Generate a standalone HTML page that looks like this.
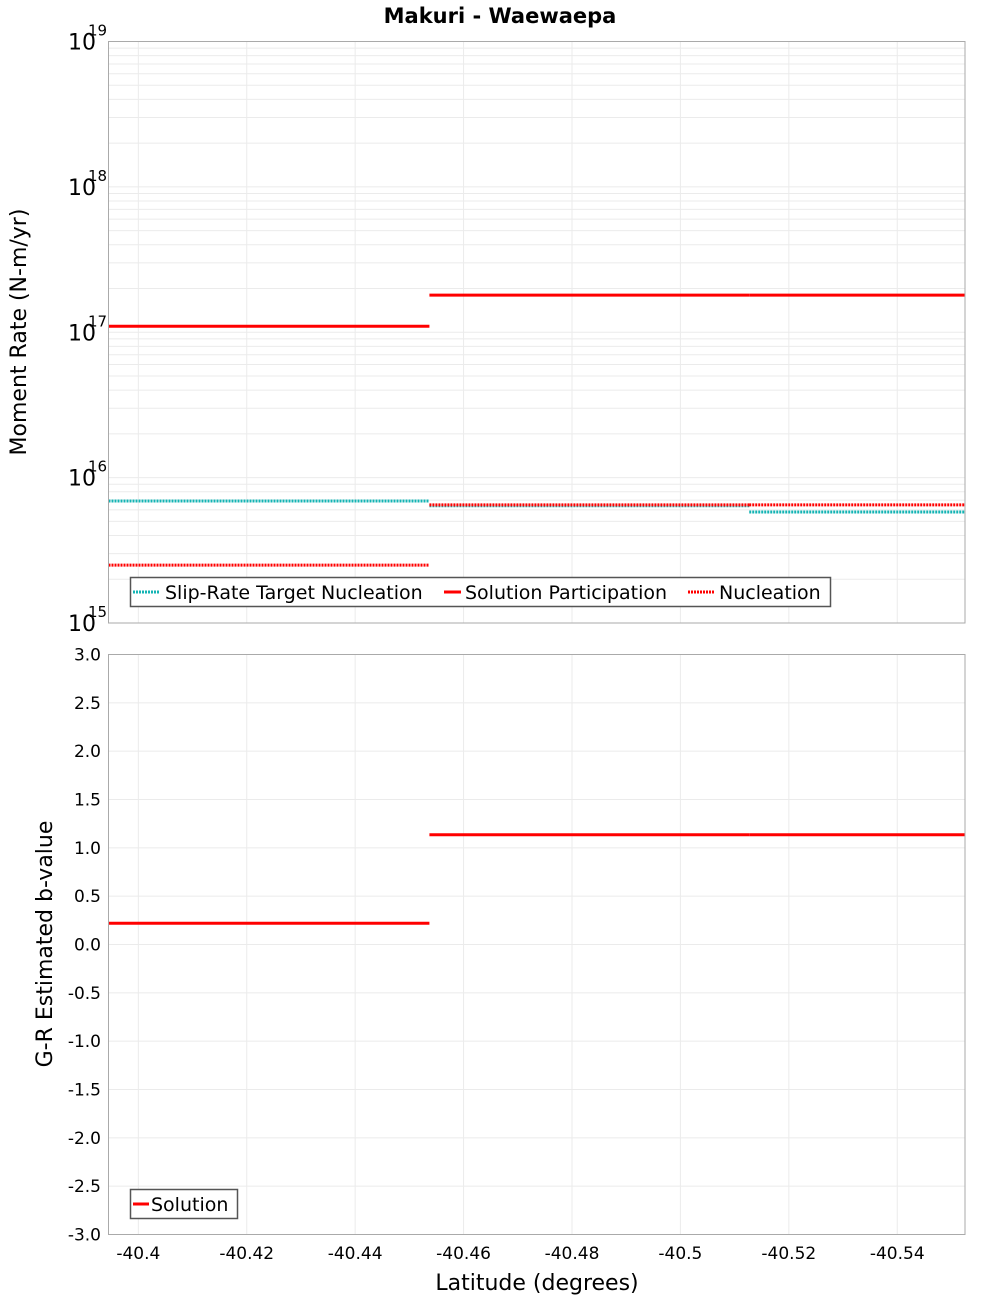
<!DOCTYPE html>
<html><head><meta charset="utf-8"><style>
body{margin:0;background:#fff}
svg{display:block;font-family:"DejaVu Sans","Liberation Sans",sans-serif}
</style></head><body>
<svg id="chart" width="1000" height="1300">
<text x="500" y="23" text-anchor="middle" font-size="21" font-weight="bold">Makuri - Waewaepa</text>
<g id="topPlot"></g><g id="botPlot"></g>
</svg>
<script>
const bounds = [-40.3945, -40.4537, -40.5127, -40.5525];
const slipTarget = [6.9e15, 6.4e15, 5.8e15];
const participation = [1.1e17, 1.8e17, 1.8e17];
const nucleation = [2.5e15, 6.5e15, 6.5e15];
const bValues = [0.22, 1.135, 1.135];
const xTicks = [-40.4, -40.42, -40.44, -40.46, -40.48, -40.5, -40.52, -40.54];
const xTickLabels = ["-40.4","-40.42","-40.44","-40.46","-40.48","-40.5","-40.52","-40.54"];
const logDecades = [15,16,17,18,19];
const bTicks = [3,2.5,2,1.5,1,0.5,0,-0.5,-1,-1.5,-2,-2.5,-3];

const NS="http://www.w3.org/2000/svg";
const L=108.5,R=965;
const xMin=-40.3945,xMax=-40.5525;
const X=v=>L+(v-xMin)/(xMax-xMin)*(R-L);
const T1=41.5,B1=623, T2=654.5,B2=1234.5;
const Y1=v=>B1-(Math.log10(v)-15)/4*(B1-T1);
const Y2=v=>B2-(v+3)/6*(B2-T2);
function mk(p,tag,a,txt){const e=document.createElementNS(NS,tag);for(const k in a)e.setAttribute(k,a[k]);if(txt!==undefined)e.textContent=txt;p.appendChild(e);return e;}
const topG=document.getElementById('topPlot'),botG=document.getElementById('botPlot');

const g1=mk(topG,'g',{});


for(let d=15;d<19;d++)for(let m=1;m<10;m++){const y=Y1(m*Math.pow(10,d));mk(g1,'line',{x1:L,x2:R,y1:y,y2:y,stroke:'#ebebeb','stroke-width':1});}
xTicks.forEach(t=>{mk(g1,'line',{x1:X(t),x2:X(t),y1:T1,y2:B1,stroke:'#ebebeb'});});
const g2=mk(botG,'g',{});


bTicks.forEach(t=>mk(g2,'line',{x1:L,x2:R,y1:Y2(t),y2:Y2(t),stroke:'#ebebeb'}));
xTicks.forEach(t=>mk(g2,'line',{x1:X(t),x2:X(t),y1:T2,y2:B2,stroke:'#ebebeb'}));

logDecades.forEach(d=>{const y=Y1(Math.pow(10,d));
 const t=mk(topG,'text',{x:96,y:y+8,'text-anchor':'end','font-size':22});
 
 
 t.textContent='10';
 const s=mk(topG,'text',{x:88,y:y-6,'font-size':15},String(d));
 
 
});
bTicks.forEach(v=>{const t=mk(botG,'text',{x:101,y:Y2(v)+6,'text-anchor':'end','font-size':17},v.toFixed(1));
 
 });
xTicks.forEach((v,i)=>{const t=mk(botG,'text',{x:X(v),y:1259,'text-anchor':'middle','font-size':17},xTickLabels[i]);
 
 });

function seg(p,arr,Y,color,dash,name,w){arr.forEach((v,i)=>{const l=mk(p,'line',{x1:X(bounds[i]),x2:X(bounds[i+1]),y1:Y(v),y2:Y(v),stroke:color,'stroke-width':w||3});
 if(dash)l.setAttribute('stroke-dasharray',dash);
 
 });}
seg(topG,participation,Y1,'#ff0000',null,'solution-participation');
seg(topG,slipTarget,Y1,'#14b4b4','2 1','slip-rate-target-nucleation');
seg(topG,nucleation,Y1,'#ff0000','2 1','nucleation');
seg(botG,bValues,Y2,'#ff0000',null,'b-value-solution');

const f1=mk(topG,'rect',{x:L,y:T1,width:R-L,height:B1-T1,fill:'none',stroke:'#aaa'});

const f2=mk(botG,'rect',{x:L,y:T2,width:R-L,height:B2-T2,fill:'none',stroke:'#aaa'});


const lg=mk(topG,'g',{});


mk(lg,'rect',{x:130.5,y:577.5,width:700,height:29,fill:'#fff',stroke:'#555','stroke-width':1.5});
const items=[[133,160,'#14b4b4','2 1','Slip-Rate Target Nucleation',165],[444,461,'#ff0000',null,'Solution Participation',465],[688,714,'#ff0000','2 1','Nucleation',719]];
items.forEach(it=>{const l=mk(lg,'line',{x1:it[0],x2:it[1],y1:592,y2:592,stroke:it[2],'stroke-width':3});if(it[3])l.setAttribute('stroke-dasharray',it[3]);
 const t=mk(lg,'text',{x:it[5],y:599,'font-size':19},it[4]);
 
 });
const lg2=mk(botG,'g',{});


mk(lg2,'rect',{x:130.5,y:1189.5,width:107,height:29,fill:'#fff',stroke:'#555','stroke-width':1.5});
mk(lg2,'line',{x1:133,x2:149,y1:1204,y2:1204,stroke:'#ff0000','stroke-width':3});
const st=mk(lg2,'text',{x:151,y:1211,'font-size':19},'Solution');



const yt=mk(topG,'text',{x:0,y:0,'font-size':22,'text-anchor':'middle',transform:'translate(26,332) rotate(-90)'},'Moment Rate (N-m/yr)');

const yt2=mk(botG,'text',{x:0,y:0,'font-size':22,'text-anchor':'middle',transform:'translate(52,944) rotate(-90)'},'G-R Estimated b-value');

const xt=mk(botG,'text',{x:537,y:1290,'font-size':22,'text-anchor':'middle'},'Latitude (degrees)');

</script>
</body></html>
